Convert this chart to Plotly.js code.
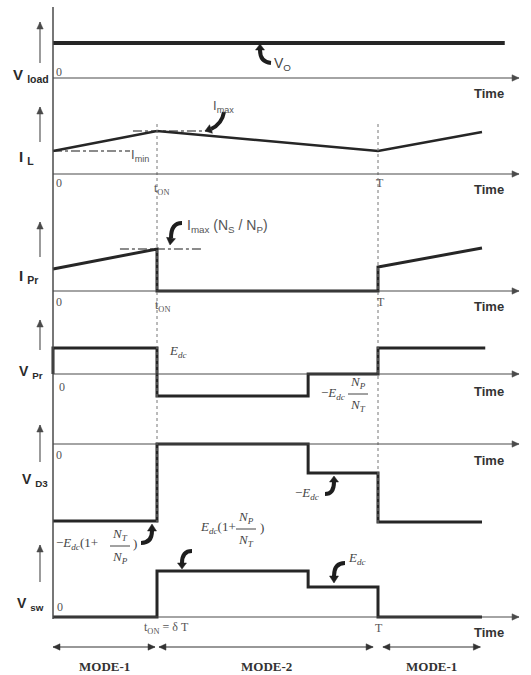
<!DOCTYPE html>
<html><head><meta charset="utf-8">
<script src="https://cdn.plot.ly/plotly-3.0.1.min.js"></script>
<style>html,body{margin:0;padding:0;background:#fff}</style>
</head><body><div id="chart" style="width:531px;height:675px"></div>
<script>
const W = 531, H = 675;
// ---- data (time in units of the period T; tON = δT) ----
const tON = 0.32, tSub = 0.785, T = 1.0, tEnd = 1.32, tAxisEnd = 1.434;
const tVload = [0, 1.39];
const vLoad = [3.5, 3.5];
const tIL = [0, tON, T, tEnd];
const iL = [2.3, 4.3, 2.3, 4.2];
const iMin = 2.3, iMax = 4.3;
const tIPr = [0, tON, tON, T, T, tEnd];
const iPr = [2.2, 4.2, 0, 0, 2.4, 4.3];
const iPrMax = 4.2;
const tVPr = [0, 0, tON, tON, tSub, tSub, T, T, 1.33];
const vPr = [0, 2.6, 2.6, -2.2, -2.2, 0, 0, 2.6, 2.6];
const tVD3 = [0, tON, tON, tSub, tSub, T, T, tEnd];
const vD3 = [-7.7, -7.7, 0, 0, -2.9, -2.9, -7.8, -7.8];
const tVsw = [0, tON, tON, tSub, tSub, T, T, tEnd];
const vSw = [0, 0, 4.6, 4.6, 3.0, 3.0, 0, 0];
const panelNames = ['<b>V</b> <sub><b>load</b></sub>', '<b>I</b> <sub><b>L</b></sub>', '<b>I</b> <sub><b>Pr</b></sub>',
                    '<b>V</b> <sub><b>Pr</b></sub>', '<b>V</b> <sub><b>D3</b></sub>', '<b>V</b> <sub><b>sw</b></sub>'];
const modeLabels = ['MODE-1', 'MODE-2', 'MODE-1'];

// ---- layout geometry (pixels) ----
const X0 = 53, PXPERT = 325, SCALE = 10;
const panels = [
  {top: 5, bot: 95, base: 78},
  {top: 95, bot: 200, base: 174},
  {top: 200, bot: 315, base: 291},
  {top: 315, bot: 430, base: 374},
  {top: 430, bot: 540, base: 444},
  {top: 540, bot: 640, base: 617}
];
const px = x => x / W, py = y => 1 - y / H;
const tx = t => X0 + t * PXPERT;
const P = (x, y) => px(x).toFixed(5) + ',' + py(y).toFixed(5);

const ink = '#262626', axc = '#4a4a4a', txt = '#333';
const SANS = 'Liberation Sans, Arial, sans-serif', SERIF = 'Liberation Serif, Times New Roman, serif';

const layout = {
  width: W, height: H, margin: {l: 0, r: 0, t: 0, b: 0},
  paper_bgcolor: '#fff', plot_bgcolor: '#fff', showlegend: false,
  xaxis: {range: [-X0 / PXPERT, (W - X0) / PXPERT], visible: false, fixedrange: true},
  shapes: [], annotations: []
};
panels.forEach((p, i) => {
  const key = i === 0 ? 'yaxis' : 'yaxis' + (i + 1);
  layout[key] = {domain: [1 - p.bot / H, 1 - p.top / H], range: [-(p.bot - p.base) / SCALE, (p.base - p.top) / SCALE],
                 visible: false, anchor: 'x', fixedrange: true};
});
const yr = i => i === 0 ? 'y' : 'y' + (i + 1);

const traces = [];
function wave(xs, ys, i, w) {
  traces.push({x: xs, y: ys, xaxis: 'x', yaxis: yr(i), mode: 'lines', line: {color: ink, width: w || 3}, hoverinfo: 'skip'});
}
function dashdot(x0, x1, v, i) {
  traces.push({x: [x0, x1], y: [v, v], xaxis: 'x', yaxis: yr(i), mode: 'lines', line: {color: '#666', width: 1.3, dash: 'dashdot'}, hoverinfo: 'skip'});
}
wave(tVload, vLoad, 0, 4);
dashdot(0, 0.237, iMin, 1);
dashdot(0.246, 0.49, iMax, 1);
wave(tIL, iL, 1, 2.6);
dashdot(0.206, 0.46, iPrMax, 2);
wave(tIPr, iPr, 2);
wave(tVPr, vPr, 3);
wave(tVD3, vD3, 4);
wave(tVsw, vSw, 5);

// arrow drawn with shapes (pixel coords -> paper)
function head(x, y, dx, dy, len, hw, col) {
  const L = Math.hypot(dx, dy); dx /= L; dy /= L;
  const bx = x - dx * len, by = y - dy * len, nx = -dy, ny = dx;
  layout.shapes.push({type: 'path', xref: 'paper', yref: 'paper',
    path: 'M' + P(x, y) + ' L' + P(bx + nx * hw, by + ny * hw) + ' L' + P(bx - nx * hw, by - ny * hw) + ' Z',
    fillcolor: col, line: {color: col, width: 0.5}});
}
function arrowLine(x0, y0, x1, y1, col, w, both) {
  layout.shapes.push({type: 'line', xref: 'paper', yref: 'paper', x0: px(x0), y0: py(y0), x1: px(x1), y1: py(y1), line: {color: col, width: w}});
  head(x1, y1, x1 - x0, y1 - y0, 7, 3.2, col);
  if (both) head(x0, y0, x0 - x1, y0 - y1, 7, 3.2, col);
}

// main vertical axis
layout.shapes.push({type: 'line', xref: 'x', yref: 'paper', x0: 0, x1: 0, y0: py(7), y1: py(619), line: {color: axc, width: 1.5}});
// dotted verticals at tON and T
[tON, T].forEach(t => layout.shapes.push({type: 'line', xref: 'x', yref: 'paper', x0: t, x1: t, y0: py(124), y1: py(526),
  line: {color: '#777', width: 1, dash: 'dot'}}));

// time axes with arrowheads
panels.forEach(p => arrowLine(X0, p.base, tx(tAxisEnd), p.base, axc, 1.1));
// up arrows beside labels
const upArrows = [[22, 63], [107, 142], [222, 257], [320, 350], [425, 462], [545, 582]];
upArrows.forEach(a => arrowLine(40, a[1], 40, a[0], axc, 1.1));

function label(text, x, y, opt) {
  opt = opt || {};
  layout.annotations.push({text: text, x: px(x), y: py(y), xref: 'paper', yref: 'paper', showarrow: false,
    xanchor: opt.xa || 'left', yanchor: opt.ya || 'middle',
    font: {family: opt.fam || SANS, size: opt.size || 13, color: opt.color || txt}});
}
// panel names
const nameAt = [[11, 76, 15], [17, 157, 15], [17, 276, 15], [17, 372, 14], [20, 480, 14], [15, 604, 14]];
panelNames.forEach((n, i) => label(n, nameAt[i][0], nameAt[i][1], {size: nameAt[i][2], color: '#2a2a2a'}));
// Time labels
[94, 190, 306, 391, 460, 632].forEach(y => label('<b>Time</b>', 489, y, {xa: 'center', size: 13}));
// tick labels
const tk = {fam: SERIF, size: 12, color: '#555'};
label('0', 54, 72, tk); label('0', 54, 183, tk); label('0', 54, 302, tk); label('0', 57, 387, tk);
label('0', 54, 455, tk); label('0', 55, 607, tk);
label('t<sub>ON</sub>', 161, 189, Object.assign({xa: 'center'}, tk));
label('T', 380, 183, Object.assign({xa: 'center'}, tk));
label('t<sub>ON</sub>', 162, 306, Object.assign({xa: 'center'}, tk));
label('T', 381, 302, Object.assign({xa: 'center'}, tk));
label('t<sub>ON</sub> = δ T', 166, 628, Object.assign({xa: 'center'}, tk));
label('T', 379, 628, Object.assign({xa: 'center'}, tk));

// signal labels
label('V<sub>O</sub>', 272, 64, {size: 14, color: '#444'});
label('I<sub>max</sub>', 211, 106, {size: 13, color: '#555'});
label('I<sub>min</sub>', 129, 156, {size: 13, color: '#555'});
label('I<sub>max</sub> (N<sub>S</sub> / N<sub>P</sub>)', 185, 226, {size: 14, color: '#555'});
const m = {fam: SERIF, size: 13, color: '#444'};
const Edc = '<i>E</i><sub><i>dc</i></sub>';
label(Edc, 167, 352, m);
label('−' + Edc, 347, 393, Object.assign({xa: 'right'}, m));
label('−' + Edc, 321, 493, Object.assign({xa: 'right'}, m));
label('−' + Edc + '(1+', 54, 543, m);
label(')', 131, 543, m);
label(Edc + '(1+', 198, 527, m);
label(')', 258, 527, m);
label(Edc, 346, 558, m);
function frac(xc, yl, num, den, w) {
  label(num, xc, yl - 1, Object.assign({xa: 'center', ya: 'bottom'}, m));
  label(den, xc, yl + 1, Object.assign({xa: 'center', ya: 'top'}, m));
  layout.shapes.push({type: 'line', xref: 'paper', yref: 'paper', x0: px(xc - w / 2), x1: px(xc + w / 2), y0: py(yl), y1: py(yl), line: {color: '#444', width: 1}});
}
frac(358, 394, '<i>N</i><sub><i>P</i></sub>', '<i>N</i><sub><i>T</i></sub>', 20);
frac(120, 546, '<i>N</i><sub><i>T</i></sub>', '<i>N</i><sub><i>P</i></sub>', 20);
frac(246, 529, '<i>N</i><sub><i>P</i></sub>', '<i>N</i><sub><i>T</i></sub>', 20);

// bent pointer arrows
function curly(tail, ctrl, end, tip) {
  layout.shapes.push({type: 'path', xref: 'paper', yref: 'paper',
    path: 'M' + P(tail[0], tail[1]) + ' Q' + P(ctrl[0], ctrl[1]) + ' ' + P(end[0], end[1]),
    line: {color: '#1e1e1e', width: 4}});
  head(tip[0], tip[1], tip[0] - end[0], tip[1] - end[1], Math.hypot(tip[0] - end[0], tip[1] - end[1]), 4.5, '#1e1e1e');
}
curly([271, 63], [260, 62], [260, 50], [260, 44]);
curly([224, 112], [222, 124], [211, 129], [205, 131]);
curly([182, 223], [171, 223], [171, 238], [170, 245]);
curly([325, 494], [334, 494], [334, 482], [334, 476]);
curly([141, 543], [152, 543], [152, 531], [152, 524]);
curly([192, 551], [182, 551], [182, 563], [182, 569]);
curly([345, 563], [334, 563], [334, 576], [334, 583]);

// mode arrows
const modeSpans = [[0, 0.314], [0.326, 0.985], [1.015, 1.315]];
modeSpans.forEach((s, i) => {
  arrowLine(tx(s[0]), 647, tx(s[1]), 647, '#333', 1.2, true);
  label('<b>' + modeLabels[i] + '</b>', tx((s[0] + s[1]) / 2), 666, {xa: 'center', fam: SERIF, size: 13, color: '#333'});
});

Plotly.newPlot('chart', traces, layout, {staticPlot: true, displayModeBar: false});
</script></body></html>
